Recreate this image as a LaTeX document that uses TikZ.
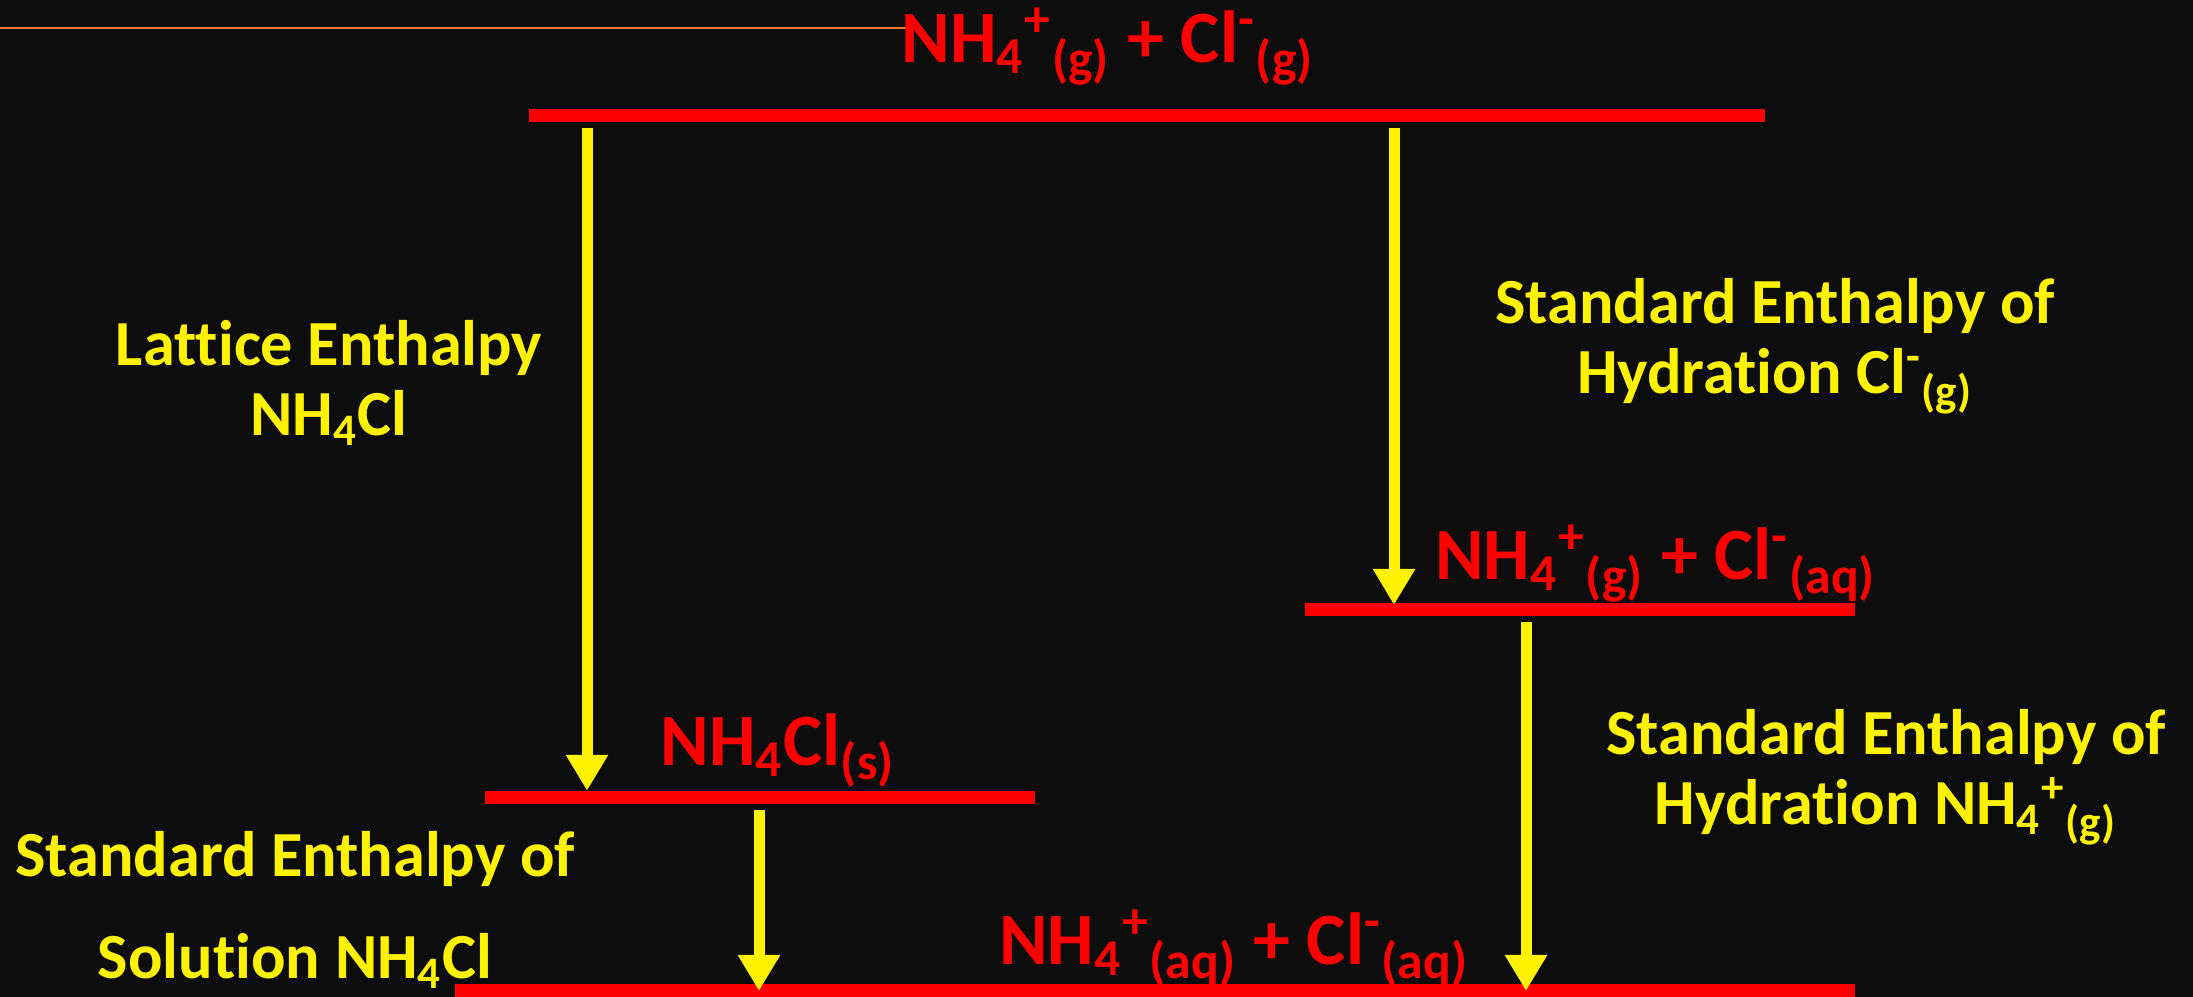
\documentclass[tikz,border=0pt]{standalone}
\usepackage{fontspec}
\setmainfont[Ligatures=NoCommon]{Carlito}
\usetikzlibrary{arrows.meta,positioning}
\definecolor{bgdark}{HTML}{0D0D0D}
\definecolor{rulecol}{HTML}{ED7D31}

\begin{document}
\begin{tikzpicture}[
    level/.style={rectangle, fill=red, inner sep=0pt, minimum height=0.13cm},
    species/.style={text=red, font=\fontsize{21}{25}\selectfont\bfseries, inner sep=0pt, anchor=base},
    enthtext/.style={text=yellow, font=\fontsize{18.3}{20}\selectfont\bfseries, inner sep=0pt, anchor=base, align=center},
    enth/.style={yellow, line width=0.11cm, -{Triangle[width=0.40cm, length=0.36cm]}}
]

% Background and top rule
\fill[bgdark] (0,0) rectangle (21.93,9.97);
\useasboundingbox (0,0) rectangle (21.93,9.97);
\coordinate (ruleL) at (0,9.69);
\coordinate (ruleR) at (9.16,9.69);
\draw[rulecol, line width=0.025cm] (ruleL) -- (ruleR);

% Energy levels
\node[level, minimum width=12.36cm] (gas) at (11.47,8.81) {};
\node[level, minimum width=5.50cm] (hydcl) at (15.80,3.87) {};
\node[level, minimum width=5.50cm] (solid) at (7.60,1.99) {};
\node[level, minimum width=14.00cm] (aq) at (11.55,0.06) {};

% Species on the levels
\node[species] (gasT) at (11.08,9.34) {NH\textsubscript{4}\textsuperscript{+}\textsubscript{(g)} + Cl\textsuperscript{-}\textsubscript{(g)}};
\node[species] (hydclT) at (16.56,4.17) {NH\textsubscript{4}\textsuperscript{+}\textsubscript{(g)} + Cl\textsuperscript{-}\textsubscript{(aq)}};
\node[species] (solidT) at (7.78,2.31) {NH\textsubscript{4}Cl\textsubscript{(s)}};
\node[species] (aqT) at (12.34,0.32) {NH\textsubscript{4}\textsuperscript{+}\textsubscript{(aq)} + Cl\textsuperscript{-}\textsubscript{(aq)}};

% Arrow positions
\coordinate (latx) at (5.87,0);
\coordinate (hclx) at (13.94,0);
\coordinate (hnhx) at (15.26,0);
\coordinate (solx) at (7.59,0);

% Enthalpy changes
\draw[enth, shorten <=0.05cm] (gas.south -| latx) -- (solid.north -| latx);
\draw[enth, shorten <=0.05cm, shorten >=0.05cm] (gas.south -| hclx) -- (hydcl.center -| hclx);
\draw[enth, shorten <=0.05cm] (hydcl.south -| hnhx) -- (aq.center -| hnhx);
\draw[enth, shorten <=0.05cm] (solid.south -| solx) -- (aq.center -| solx);

% Labels (anchored at the last line)
\node[enthtext] (latL) at (3.29,5.61) {Lattice Enthalpy\\NH\textsubscript{4}Cl};
\node[enthtext] (hclL) at (17.75,6.03) {Standard Enthalpy of\\Hydration Cl\textsuperscript{-}\textsubscript{(g)}};
\node[enthtext] (hnhL) at (18.86,1.72) {Standard Enthalpy of\\Hydration NH\textsubscript{4}\textsuperscript{+}\textsubscript{(g)}};
\node[enthtext] (solL) at (2.95,0.18) {Standard Enthalpy of\\[0.32cm]Solution NH\textsubscript{4}Cl};

\end{tikzpicture}
\end{document}
